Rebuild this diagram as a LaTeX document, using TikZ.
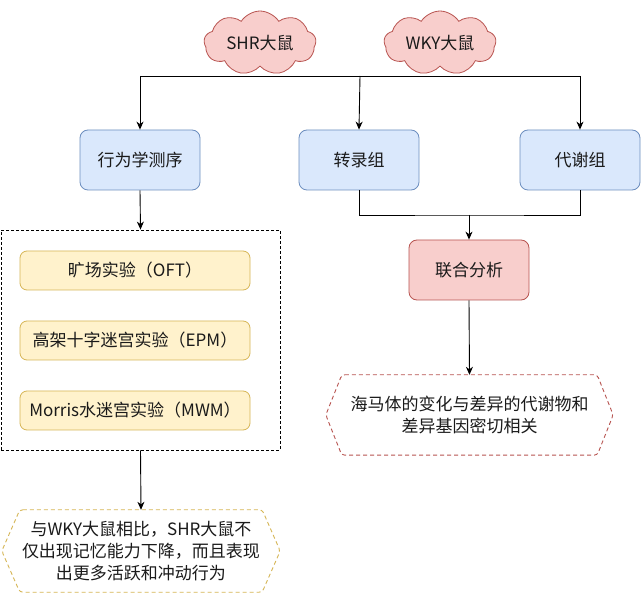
\documentclass[tikz,border=0pt]{standalone}
\usepackage{fontspec}
\setmainfont{Noto Sans CJK SC}
\usetikzlibrary{shapes.symbols,arrows.meta,backgrounds}
\definecolor{bluef}{HTML}{DAE8FC}
\definecolor{blued}{HTML}{6C8EBF}
\definecolor{redf}{HTML}{F8CECC}
\definecolor{redd}{HTML}{B85450}
\definecolor{yelf}{HTML}{FFF2CC}
\definecolor{yeld}{HTML}{D6B656}
\definecolor{txt}{HTML}{1A1A1A}
\tikzset{
  lbl/.style={font=\fontsize{17}{22}\selectfont, text=txt},
  cloudbox/.style={cloud, cloud puffs=9, cloud puff arc=115, draw=redd, fill=redf, line width=0.8pt, minimum width=112pt, minimum height=64pt, inner sep=0pt},
  bluebox/.style={lbl, draw=blued, fill=bluef, rounded corners=8pt, line width=0.8pt, minimum width=120pt, minimum height=60pt},
  redbox/.style={lbl, draw=redd, fill=redf, rounded corners=8pt, line width=0.8pt, minimum width=120pt, minimum height=60pt},
  yelbox/.style={lbl, draw=yeld, fill=yelf, rounded corners=7pt, line width=0.8pt, minimum width=230pt, minimum height=39pt, inner sep=0pt},
  grpbox/.style={draw=black, dashed, dash pattern=on 3pt off 2pt, line width=0.8pt, minimum width=279pt, minimum height=220pt},
  hexnode/.style={lbl, align=center, inner sep=0pt},
  hexline/.style={dashed, dash pattern=on 4pt off 3pt, line width=0.9pt, rounded corners=3pt, fill=white},
  conn/.style={line width=0.9pt, black},
  arr/.style={conn, -{Stealth[length=8pt,width=7pt,inset=2.5pt]}}
}
\begin{document}
\begin{tikzpicture}[x=1pt,y=-1pt]
\useasboundingbox (0,0) rectangle (641,596);

% clouds
\node[cloudbox, label={[lbl]center:SHR大鼠}] (shr) at (260,43) {};
\node[cloudbox, label={[lbl]center:WKY大鼠}] (wky) at (440,43) {};

% top boxes
\node[bluebox] (beh) at (140,160) {行为学测序};
\node[bluebox] (tra) at (359,160) {转录组};
\node[bluebox] (met) at (580,160) {代谢组};
\node[redbox] (joint) at (469,270) {联合分析};

% group
\node[grpbox] (grp) at (140.5,340) {};
\node[yelbox] (oft) at (135,270.5) {旷场实验（OFT）};
\node[yelbox] (epm) at (135,340.5) {高架十字迷宫实验（EPM）};
\node[yelbox] (mwm) at (135,410.5) {Morris水迷宫实验（MWM）};

% results
\node[hexnode, minimum width=287pt, minimum height=80pt] (res) at (469.5,415) {海马体的变化与差异的代谢物和\\差异基因密切相关};
\node[hexnode, minimum width=278pt, minimum height=82pt] (beh2) at (141,551) {与WKY大鼠相比，SHR大鼠不\\仅出现记忆能力下降，而且表现\\出更多活跃和冲动行为};
\begin{scope}[on background layer]
\fill[white] (0,0) rectangle (641,596);
\draw[hexline, draw=redd] ([xshift=16pt]res.north west) -- ([xshift=-16pt]res.north east) -- (res.east) -- ([xshift=-16pt]res.south east) -- ([xshift=16pt]res.south west) -- (res.west) -- cycle;
\draw[hexline, draw=yeld] ([xshift=18pt]beh2.north west) -- ([xshift=-18pt]beh2.north east) -- (beh2.east) -- ([xshift=-18pt]beh2.south east) -- ([xshift=18pt]beh2.south west) -- (beh2.west) -- cycle;
\end{scope}

% connectors
\coordinate (jl) at (140,76);
\coordinate (jm) at (360,76);
\coordinate (jr) at (580,76);
\draw[conn] (jl) -- (jr);
\draw[arr] (jl) -- (beh.north);
\draw[arr] (jm) -- (tra.north);
\draw[arr] (jr) -- (met.north);
\coordinate (mj) at (469,215);
\draw[conn] (tra.south) |- (mj) -| (met.south);
\draw[arr] (mj) -- (joint.north);
\draw[arr] (joint.south) -- (res.north);
\draw[arr] (beh.south) -- (grp.north);
\draw[arr] (grp.south) -- (beh2.north);
\end{tikzpicture}
\end{document}
